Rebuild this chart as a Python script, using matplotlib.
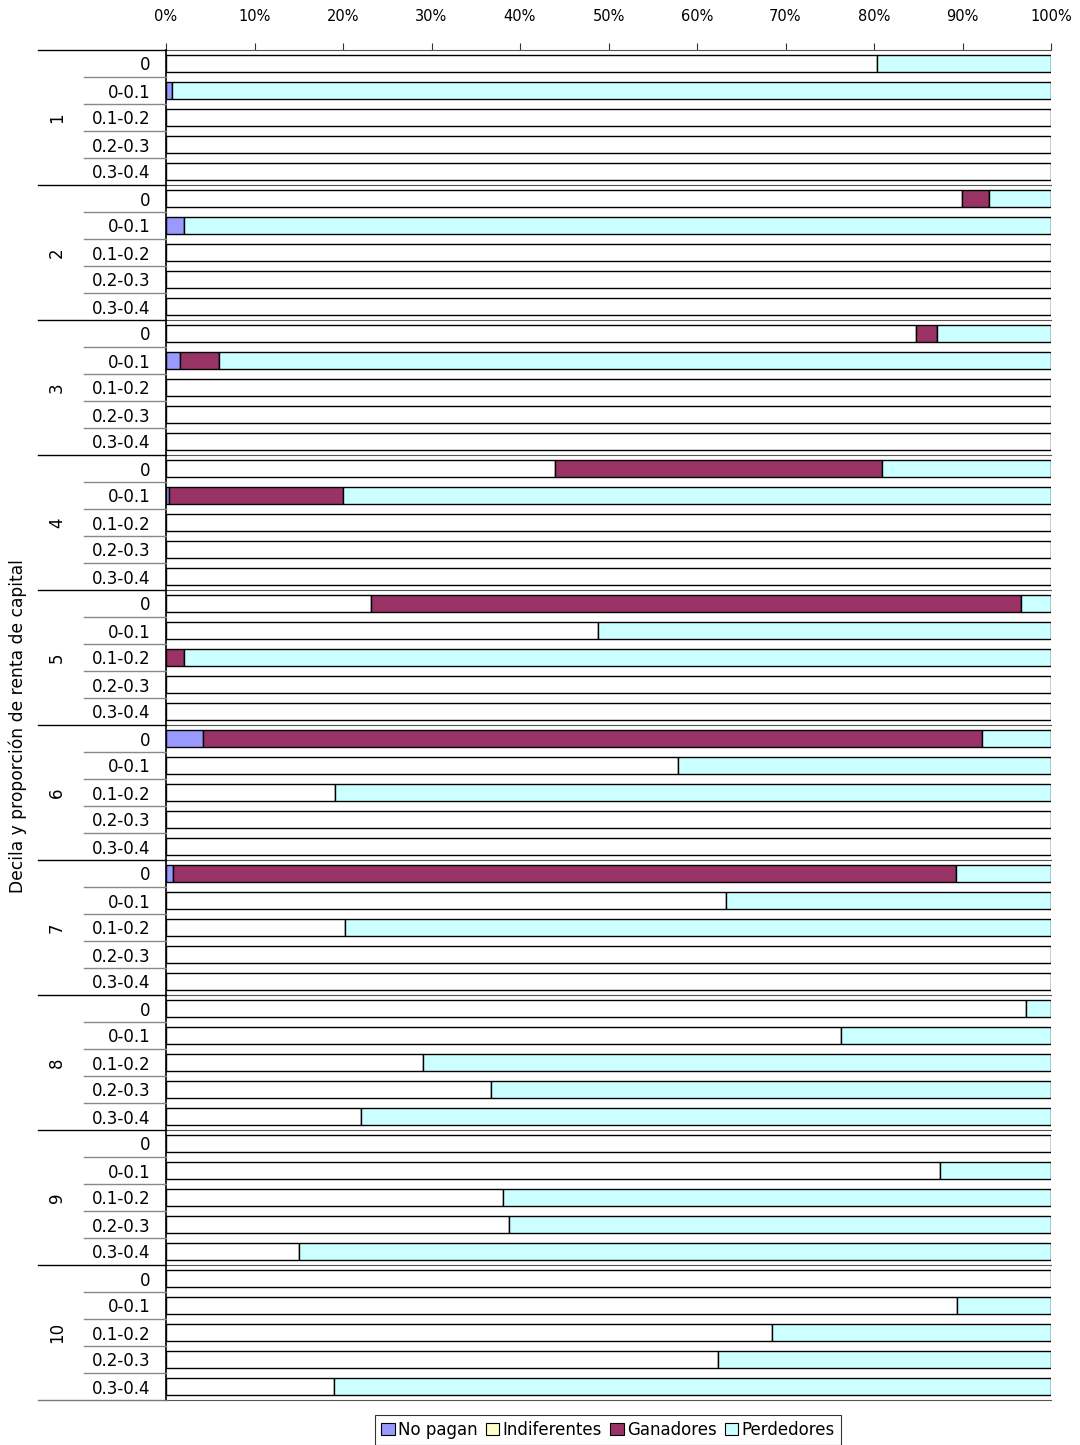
import numpy as np
import matplotlib
matplotlib.use("Agg")
import matplotlib.pyplot as plt
from matplotlib.patches import Patch
from matplotlib.transforms import blended_transform_factory

# deciles and share of capital income within each decile
deciles = ['1', '2', '3', '4', '5', '6', '7', '8', '9', '10']
shares = ['0', '0-0.1', '0.1-0.2', '0.2-0.3', '0.3-0.4']

# percentage of taxpayers in each situation (rows = deciles, cols = shares)
no_pagan = [
    [0, 0.7, 0, 0, 0],
    [0, 2.0, 0, 0, 0],
    [0, 1.6, 0, 0, 0],
    [0, 0.3, 0, 0, 0],
    [0, 0, 0, 0, 0],
    [4.2, 0, 0, 0, 0],
    [0.8, 0, 0, 0, 0],
    [0, 0, 0, 0, 0],
    [0, 0, 0, 0, 0],
    [0, 0, 0, 0, 0],
]
indiferentes = [
    [80.3, 0, 100, 100, 100],
    [89.9, 0, 100, 100, 100],
    [84.7, 0, 100, 100, 100],
    [44.0, 0, 100, 100, 100],
    [23.2, 48.8, 0, 100, 100],
    [0, 57.9, 19.1, 100, 100],
    [0, 63.3, 20.2, 100, 100],
    [97.2, 76.3, 29.0, 36.7, 22.0],
    [100, 87.5, 38.1, 38.8, 15.0],
    [100, 89.4, 68.5, 62.4, 19.0],
]
ganadores = [
    [0, 0, 0, 0, 0],
    [3.1, 0, 0, 0, 0],
    [2.4, 4.4, 0, 0, 0],
    [36.9, 19.7, 0, 0, 0],
    [73.4, 0, 2.0, 0, 0],
    [88.0, 0, 0, 0, 0],
    [88.5, 0, 0, 0, 0],
    [0, 0, 0, 0, 0],
    [0, 0, 0, 0, 0],
    [0, 0, 0, 0, 0],
]
perdedores = [
    [19.7, 99.3, 0, 0, 0],
    [7.0, 98.0, 0, 0, 0],
    [12.9, 94.0, 0, 0, 0],
    [19.1, 80.0, 0, 0, 0],
    [3.4, 51.2, 98.0, 0, 0],
    [7.8, 42.1, 80.9, 0, 0],
    [10.7, 36.7, 79.8, 0, 0],
    [2.8, 23.7, 71.0, 63.3, 78.0],
    [0, 12.5, 61.9, 61.2, 85.0],
    [0, 10.6, 31.5, 37.6, 81.0],
]

series = [
    ('No pagan', no_pagan, '#9999FF', '#9999FF'),
    ('Indiferentes', indiferentes, '#FFFFFF', '#FFFFCC'),
    ('Ganadores', ganadores, '#993366', '#993366'),
    ('Perdedores', perdedores, '#CCFFFF', '#CCFFFF'),
]

n_grp = len(deciles)
n_sub = len(shares)
n = n_grp * n_sub
ypos = np.arange(n)

fig = plt.figure(figsize=(10.8, 14.45), dpi=100)
ax = fig.add_axes([166 / 1080, 1 - 1400 / 1445, 885 / 1080, 1350 / 1445])

left = np.zeros(n)
for name, vals, bar_col, _ in series:
    v = np.array(vals, dtype=float).ravel()
    m = v > 0
    ax.barh(ypos[m], v[m], left=left[m], height=0.6, color=bar_col,
            edgecolor='black', linewidth=1.0, zorder=3)
    left += v

ax.set_xlim(0, 100)
ax.set_ylim(n - 0.5, -0.5)

# percentage axis on top
ax.xaxis.tick_top()
ax.set_xticks(np.arange(0, 101, 10))
ax.set_xticklabels([f'{t}%' for t in range(0, 101, 10)], fontsize=10.5)
ax.tick_params(axis='x', direction='out', length=5, width=0.8, pad=14,
               color='#333333')

# inner category labels
ax.set_yticks(ypos)
ax.set_yticklabels(shares * n_grp, fontsize=12, va='center_baseline')
ax.tick_params(axis='y', length=0, pad=11)

for s in ['top', 'right', 'bottom']:
    ax.spines[s].set_visible(False)
ax.spines['left'].set_color('black')
ax.spines['left'].set_linewidth(1.2)

# separators for the two-level category axis
trans = blended_transform_factory(ax.transAxes, ax.transData)
x_outer = (38 - 166) / 885
x_inner = (84 - 166) / 885
for g in range(n_grp + 1):
    yb = g * n_sub - 0.5
    col = '#777777' if g == n_grp else 'black'
    ax.plot([x_outer, 0], [yb, yb], transform=trans, color=col, lw=1.0,
            clip_on=False, zorder=4)
    ax.plot([0, 1], [yb, yb], transform=trans, color='#555555', lw=0.8,
            clip_on=False, zorder=2)
    if g < n_grp:
        for k in range(1, n_sub):
            yk = g * n_sub + k - 0.5
            ax.plot([x_inner, 0], [yk, yk], transform=trans, color='#888888',
                    lw=1.0, clip_on=False, zorder=4)
        ax.text((57 - 166) / 885, g * n_sub + (n_sub - 1) / 2, deciles[g],
                transform=trans, rotation=90, ha='center', va='center',
                fontsize=12)

fig.text(18 / 1080, 1 - 726 / 1445, 'Decila y proporción de renta de capital',
         rotation=90, ha='center', va='center', fontsize=12.3)

handles = [Patch(facecolor=lc, edgecolor='black', linewidth=0.8, label=name)
           for name, _, _, lc in series]
leg = fig.legend(handles=handles, loc='upper center', ncol=4,
                 bbox_to_anchor=(608 / 1080, 1 - 1415 / 1445), fontsize=12,
                 frameon=True, fancybox=False, edgecolor='black',
                 handlelength=0.8, handleheight=0.8, handletextpad=0.2,
                 columnspacing=0.5, borderpad=0.35, borderaxespad=0)
leg.get_frame().set_linewidth(0.8)

fig.savefig('out.png', dpi=100)
